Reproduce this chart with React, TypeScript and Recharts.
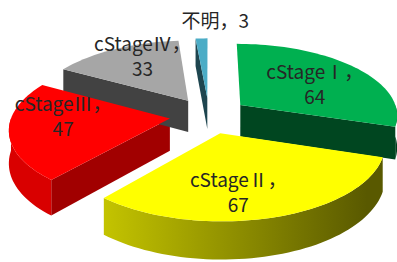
import React from "react";
import { PieChart, Pie } from "recharts";

const stages = ["cStageⅠ", "cStageⅡ", "cStageⅢ", "cStageⅣ", "不明"];
const counts = [64, 67, 47, 33, 3];
const colors = ["#00B050", "#FFFF00", "#FF0000", "#A6A6A6", "#4BACC6"];

const data = stages.map((name, i) => ({ name, value: counts[i] }));

// fake 3D: squash + a bit of perspective, walls pushed down
const TILT = 0.4535;
const PERSP = 0.13;
const DEPTH = 32;
const EXPLODE = 0.25;
const RAD = Math.PI / 180;
const FONT = "'Liberation Sans Narrow', 'Noto Sans CJK JP', sans-serif";
// hand placed label tweaks (px), the source chart has moved them around
const LABEL_SHIFT = [
  [4, 1],
  [-12, 10],
  [-11, -11],
  [0, -14],
  [16, 4],
];

function shade(hex: string, f: number) {
  const n = parseInt(hex.slice(1), 16);
  const c = [(n >> 16) & 255, (n >> 8) & 255, n & 255].map((v) => Math.round(v * f));
  return `rgb(${c[0]},${c[1]},${c[2]})`;
}

function proj(cx: number, cy: number, R: number, X: number, V: number, down = 0) {
  const d = 1 - PERSP * V;
  return [cx + (R * X) / d, cy + (R * TILT * V + down) / d];
}

function geom(p: any) {
  const { cx, cy, outerRadius: R, startAngle: s, endAngle: e, midAngle: m } = p;
  const ox = EXPLODE * Math.cos(m * RAD);
  const ov = -EXPLODE * Math.sin(m * RAD);
  const pt = (a: number, r: number, down = 0) =>
    proj(cx, cy, R, ox + r * Math.cos(a * RAD), ov - r * Math.sin(a * RAD), down);
  return { pt, s, e };
}

function arcAngles(s: number, e: number) {
  const n = Math.max(2, Math.ceil(Math.abs(e - s) / 2));
  const out: number[] = [];
  for (let i = 0; i <= n; i++) out.push(s + ((e - s) * i) / n);
  // add the 0/180 crossings so walls end exactly there
  const lo = Math.min(s, e), hi = Math.max(s, e);
  for (let k = Math.ceil(lo / 180); k * 180 <= hi; k++) out.push(k * 180);
  return out.sort((a, b) => (e < s ? b - a : a - b));
}

const toPath = (pts: number[][]) =>
  pts.map((q, i) => `${i ? "L" : "M"}${q[0].toFixed(2)},${q[1].toFixed(2)}`).join("") + "Z";

const renderWalls = (p: any) => {
  const { pt, s, e } = geom(p);
  const base = colors[p.index];
  const apex = pt(0, 0);
  const apexB = pt(0, 0, DEPTH);
  const faces: React.ReactNode[] = [];
  const cut = (a: number, nx: number, key: string) => {
    const o = pt(a, 1);
    const oB = pt(a, 1, DEPTH);
    faces.push(
      <path key={key} d={toPath([apex, o, oB, apexB])} fill={shade(base, nx > 0 ? 0.63 : 0.4)} />
    );
  };
  if (-Math.cos(s * RAD) > 0) cut(s, -Math.sin(s * RAD), "cs");
  if (Math.cos(e * RAD) > 0) cut(e, Math.sin(e * RAD), "ce");

  // outer wall, only the part facing the viewer
  const angles = arcAngles(s, e);
  let run: number[] = [];
  const runs: number[][] = [];
  angles.forEach((a) => {
    if (Math.sin(a * RAD) <= 1e-6) run.push(a);
    else {
      if (run.length > 1) runs.push(run);
      run = [];
    }
  });
  if (run.length > 1) runs.push(run);
  const gid = `wall-${p.index}`;
  runs.forEach((r, i) => {
    const top = r.map((a) => pt(a, 1));
    const bot = r.map((a) => pt(a, 1, DEPTH)).reverse();
    faces.push(<path key={`w${i}`} d={toPath([...top, ...bot])} fill={`url(#${gid})`} />);
  });

  return (
    <g key={`walls-${p.index}`}>
      <defs>
        <linearGradient id={gid} gradientUnits="userSpaceOnUse" x1={p.cx - p.outerRadius} x2={p.cx + p.outerRadius} y1={0} y2={0}>
          <stop offset="0" stopColor={shade(base, 0.85)} />
          <stop offset="1" stopColor={shade(base, 0.35)} />
        </linearGradient>
      </defs>
      {faces}
    </g>
  );
};

const renderTop = (p: any) => {
  const { pt, s, e } = geom(p);
  const pts = [pt(0, 0), ...arcAngles(s, e).map((a) => pt(a, 1))];
  return <path key={`top-${p.index}`} d={toPath(pts)} fill={colors[p.index]} />;
};

const renderText = (p: any) => {
  const { cx, cy, outerRadius: R, midAngle: m, percent, name, value, index } = p;
  const outside = percent < 0.05;
  const r = EXPLODE + (outside ? 1.45 : 0.6);
  const [px, py] = proj(cx, cy, R, r * Math.cos(m * RAD), -r * Math.sin(m * RAD));
  const x = px + LABEL_SHIFT[index][0];
  const y = py + LABEL_SHIFT[index][1];
  const common = { fontFamily: FONT, fontSize: 19, fill: "#262626", textAnchor: "middle" as const, dominantBaseline: "central" as const };
  if (outside) {
    return (
      <text key={`t-${index}`} x={x} y={y} {...common}>
        {`${name}，${value}`}
      </text>
    );
  }
  return (
    <g key={`t-${index}`}>
      <text x={x} y={y - 12.5} {...common}>{`${name}，`}</text>
      <text x={x} y={y + 12.5} {...common}>{value}</text>
    </g>
  );
};

export default function App() {
  const pieProps = {
    data,
    dataKey: "value",
    nameKey: "name",
    cx: 209,
    cy: 115.4,
    outerRadius: 158,
    startAngle: 90,
    endAngle: -270,
    fill: "none",
    stroke: "none",
    labelLine: false,
    isAnimationActive: false,
  };
  return (
    <div style={{ position: "absolute", left: 0, top: 0, background: "#fff" }}>
      <PieChart width={397} height={262} margin={{ top: 0, right: 0, bottom: 0, left: 0 }}>
        <Pie {...pieProps} label={renderWalls} />
        <Pie {...pieProps} label={renderTop} />
        <Pie {...pieProps} label={renderText} />
      </PieChart>
    </div>
  );
}
